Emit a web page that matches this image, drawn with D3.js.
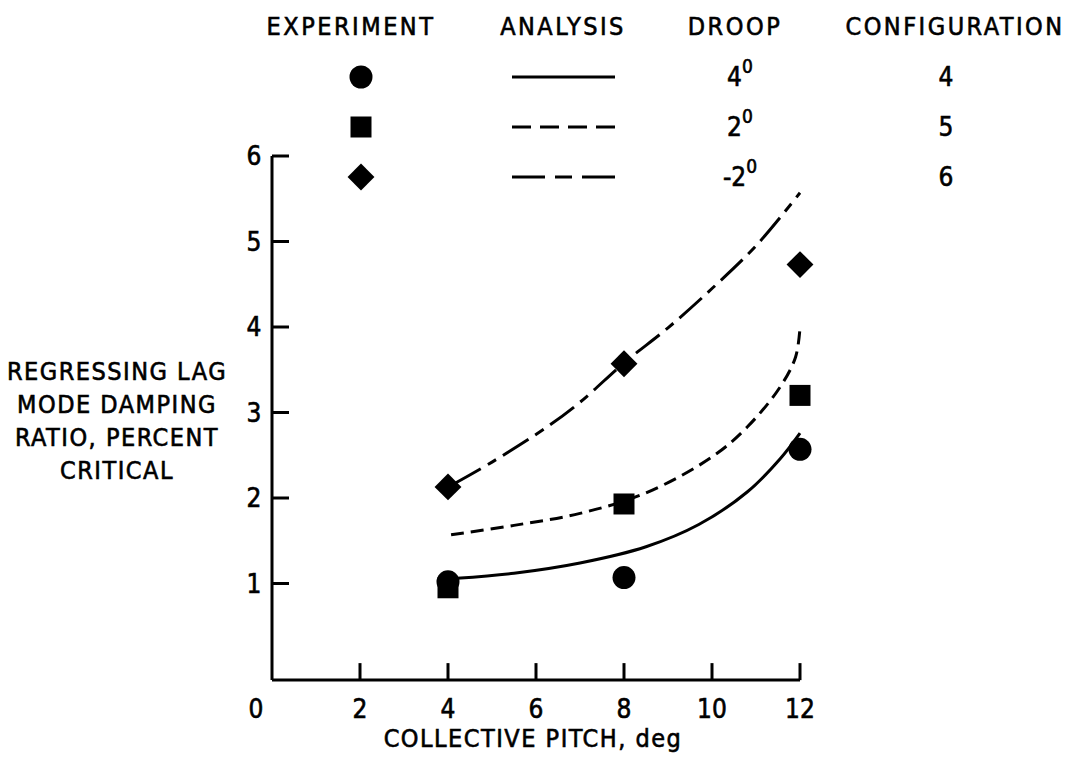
<!DOCTYPE html>
<html>
<head>
<meta charset="utf-8">
<script src="https://cdn.jsdelivr.net/npm/d3@7"></script>
<style>
  body { margin: 0; background: #fff; }
  svg text { font-family: "Liberation Sans Narrow", "DejaVu Sans Condensed", "Arial Narrow", sans-serif; fill: #000; stroke: #000; stroke-width: 0.6; }
</style>
</head>
<body>
<div id="chart"></div>
<script>
// collective pitch positions of the test points
const pitch = [4, 8, 12];

// experiment, damping ratio (percent critical)
const expConfig4 = [1.02, 1.07, 2.57];
const expConfig5 = [0.95, 1.93, 3.20];
const expConfig6 = [2.13, 3.57, 4.73];

// analysis curves
const anaX4 = [4.2, 5.5, 7, 8.5, 9.7, 10.8, 11.55, 12];
const anaY4 = [1.06, 1.12, 1.24, 1.43, 1.69, 2.07, 2.46, 2.76];
const anaX5 = [4.07, 5.5, 7, 8.5, 10, 10.8, 11.55, 11.9, 12];
const anaY5 = [1.57, 1.68, 1.82, 2.06, 2.48, 2.83, 3.30, 3.65, 3.99];
const anaX6 = [4.15, 5, 6.25, 7, 8, 9, 10, 11, 12];
const anaY6 = [2.17, 2.42, 2.83, 3.12, 3.58, 3.99, 4.45, 4.95, 5.57];

const droops = ['4', '2', '-2'];
const configs = ['4', '5', '6'];
const xTicks = [2, 4, 6, 8, 10, 12];
const yTicks = [1, 2, 3, 4, 5, 6];
const yLabelLines = ['REGRESSING LAG', 'MODE DAMPING', 'RATIO, PERCENT', 'CRITICAL'];

const width = 1065;
const height = 757;

const svg = d3.select('#chart')
  .append('svg')
  .attr('width', width)
  .attr('height', height);

const x = d3.scaleLinear().domain([0, 12]).range([272, 800]);
const y = d3.scaleLinear().domain([0, 6]).range([669, 156]);
const yBottom = -0.13;

// axes frame
const axes = svg.append('g')
  .attr('stroke', '#000')
  .attr('stroke-width', 3)
  .attr('fill', 'none');

axes.append('line')
  .attr('x1', x(0)).attr('x2', x(0))
  .attr('y1', y(6)).attr('y2', y(yBottom));
axes.append('line')
  .attr('x1', x(0)).attr('x2', x(12))
  .attr('y1', y(yBottom)).attr('y2', y(yBottom));

axes.selectAll('.xtick')
  .data(xTicks)
  .enter()
  .append('line')
  .attr('x1', function(d) { return x(d); })
  .attr('x2', function(d) { return x(d); })
  .attr('y1', y(yBottom))
  .attr('y2', y(yBottom) - 17);

axes.selectAll('.ytick')
  .data(yTicks)
  .enter()
  .append('line')
  .attr('x1', x(0))
  .attr('x2', x(0) + 17)
  .attr('y1', function(d) { return y(d); })
  .attr('y2', function(d) { return y(d); });

// tick labels
svg.selectAll('.xlabel')
  .data([0].concat(xTicks))
  .enter()
  .append('text')
  .attr('x', function(d) { return d === 0 ? 256 : x(d); })
  .attr('y', 718)
  .attr('text-anchor', 'middle')
  .attr('font-size', 26)
  .text(function(d) { return d; });

svg.selectAll('.ylabel')
  .data(yTicks)
  .enter()
  .append('text')
  .attr('x', 254)
  .attr('y', function(d) { return y(d) + 9; })
  .attr('text-anchor', 'middle')
  .attr('font-size', 26)
  .text(function(d) { return d; });

svg.append('text')
  .attr('x', x(6) - 3)
  .attr('y', 747)
  .attr('text-anchor', 'middle')
  .attr('font-size', 25)
  .attr('letter-spacing', 1.5)
  .text('COLLECTIVE PITCH, deg');

svg.selectAll('.ytitle')
  .data(yLabelLines)
  .enter()
  .append('text')
  .attr('x', 117)
  .attr('y', function(d, i) { return 380 + i * 33; })
  .attr('text-anchor', 'middle')
  .attr('font-size', 25)
  .attr('letter-spacing', 1.5)
  .text(function(d) { return d; });

// analysis curves
const line = d3.line()
  .x(function(d) { return x(d[0]); })
  .y(function(d) { return y(d[1]); })
  .curve(d3.curveCatmullRom.alpha(0.5));

const curves = [
  {pts: d3.zip(anaX4, anaY4), dash: null},
  {pts: d3.zip(anaX5, anaY5), dash: '13,7'},
  {pts: d3.zip(anaX6, anaY6), dash: '30,8,10,8'}
];

svg.selectAll('.curve')
  .data(curves)
  .enter()
  .append('path')
  .attr('d', function(d) { return line(d.pts); })
  .attr('fill', 'none')
  .attr('stroke', '#000')
  .attr('stroke-width', 3)
  .attr('stroke-dasharray', function(d) { return d.dash; });

// markers
const circleSym = d3.symbol().type(d3.symbolCircle).size(Math.PI * 11.5 * 11.5);
const squareSym = d3.symbol().type(d3.symbolSquare).size(21 * 21);
const diamondSym = d3.symbol().type(d3.symbolSquare).size(19 * 19);

function drawMarkers(vals, sym, rot) {
  svg.append('g')
    .selectAll('path')
    .data(d3.zip(pitch, vals))
    .enter()
    .append('path')
    .attr('d', sym)
    .attr('fill', '#000')
    .attr('transform', function(d) {
      return 'translate(' + x(d[0]) + ',' + y(d[1]) + ') rotate(' + rot + ')';
    });
}

drawMarkers(expConfig5, squareSym, 0);
drawMarkers(expConfig4, circleSym, 0);
drawMarkers(expConfig6, diamondSym, 45);

// legend
const headers = [
  {t: 'EXPERIMENT', x: 351},
  {t: 'ANALYSIS', x: 563},
  {t: 'DROOP', x: 735},
  {t: 'CONFIGURATION', x: 955}
];

svg.selectAll('.head')
  .data(headers)
  .enter()
  .append('text')
  .attr('x', function(d) { return d.x; })
  .attr('y', 35)
  .attr('text-anchor', 'middle')
  .attr('font-size', 25)
  .attr('letter-spacing', 2.5)
  .text(function(d) { return d.t; });

const rowY = [77, 127, 177];
const legendSyms = [circleSym, squareSym, diamondSym];
const legendRot = [0, 0, 45];
const legendDash = [null, '19,9', '33,10,17,10'];

rowY.forEach(function(ry, i) {
  svg.append('path')
    .attr('d', legendSyms[i])
    .attr('fill', '#000')
    .attr('transform', 'translate(361,' + ry + ') rotate(' + legendRot[i] + ')');

  svg.append('line')
    .attr('x1', 512).attr('x2', 615)
    .attr('y1', ry).attr('y2', ry)
    .attr('stroke', '#000')
    .attr('stroke-width', 3)
    .attr('stroke-dasharray', legendDash[i]);

  const dt = svg.append('text')
    .attr('x', 740)
    .attr('y', ry + 9)
    .attr('text-anchor', 'middle')
    .attr('font-size', 26);
  dt.append('tspan').text(droops[i]);
  dt.append('tspan')
    .attr('dy', -13)
    .attr('font-size', 19)
    .text('0');

  svg.append('text')
    .attr('x', 946)
    .attr('y', ry + 9)
    .attr('text-anchor', 'middle')
    .attr('font-size', 26)
    .text(configs[i]);
});
</script>
</body>
</html>
